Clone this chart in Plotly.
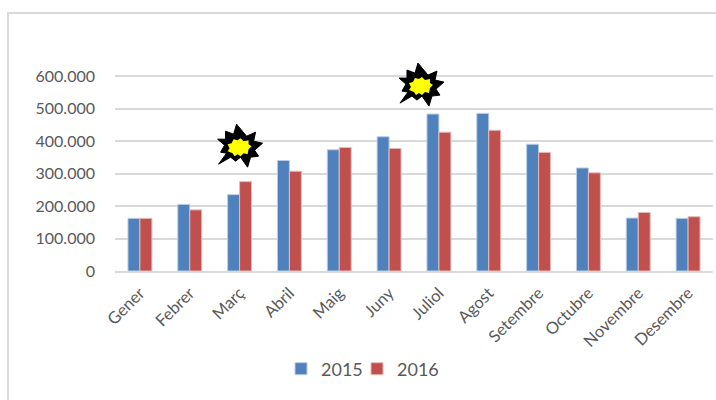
import plotly.graph_objects as go

months = ["Gener","Febrer","Març","Abril","Maig","Juny","Juliol","Agost","Setembre","Octubre","Novembre","Desembre"]
v2015 = [162000,205000,235000,340000,373000,413000,483000,485000,390000,317000,163000,162000]
v2016 = [162000,188000,275000,307000,380000,377000,427000,433000,365000,302000,180000,167000]
tick_vals = [0,100000,200000,300000,400000,500000,600000]
tick_text = ["0","100.000","200.000","300.000","400.000","500.000","600.000"]

W, H = 716, 400
L, R, T, B = 115, 3, 56, 129
pw, ph = W-L-R, H-T-B
y_top = 600000*ph/195

# burst outline, in pixels around its anchor
burst = [(-21,-17),(-9,-10),(-4,-14),(1,-10),(8,-20),(11,-10),(19,-9),(15,-3),(23,4),(14,6),(16,15),(7,11),(-3,23),(-6,13),(-14,16),(-14,8),(-22,8),(-15,2),(-19,-5),(-13,-6)]
inner = [(-12,-4),(-7,-6),(-5,-9),(-2,-7),(1,-9),(4,-6),(8,-7),(9,-2),(12,1),(9,3),(9,7),(4,6),(1,9),(-2,7),(-6,8),(-8,4),(-12,3),(-10,-1)]
burst_anchors = [(2.0,381000),(5.64,569000)]

def path(pts):
    return "M " + " L ".join(f"{x},{y}" for x,y in pts) + " Z"

fig = go.Figure()
for name, vals, col, edge, leg in [("2015",v2015,"#4F81BD","#B9CDE5","legend"),("2016",v2016,"#C0504D","#E6B9B8","legend2")]:
    fig.add_bar(x=months, y=vals, name=name, legend=leg, showlegend=True,
                marker=dict(color=col, line=dict(color=edge, width=1)))

shapes = [dict(type="rect", xref="paper", yref="paper",
               x0=(8-L)/pw, x1=(W+6-L)/pw, y0=(T+ph-H-6)/ph, y1=(T+ph-13)/ph,
               line=dict(color="#D9D9D9", width=2), fillcolor="rgba(0,0,0,0)", layer="below")]
for ax, ay in burst_anchors:
    for pts, fill, lw, lc in [(burst,"#000000",1,"#000000"),(inner,"#FFFF00",0,"#FFFF00")]:
        shapes.append(dict(type="path", xref="x", yref="y", xsizemode="pixel", ysizemode="pixel",
                           xanchor=ax, yanchor=ay, path=path(pts), fillcolor=fill,
                           line=dict(color=lc, width=lw)))

def legend_at(px):
    return dict(orientation="h", x=(px-L)/pw, xanchor="left", y=-(369-271)/ph, yanchor="middle",
                font=dict(size=18, color="#595959"), bgcolor="rgba(0,0,0,0)", itemwidth=30)

fig.update_layout(
    width=W, height=H, autosize=False,
    margin=dict(l=L, r=R, t=T, b=B), paper_bgcolor="white", plot_bgcolor="white",
    barmode="group", bargap=0.52, bargroupgap=0,
    font=dict(family="Lato", color="#595959", size=16),
    shapes=shapes,
    legend=legend_at(281), legend2=legend_at(357),
    xaxis=dict(type="category", tickangle=-45, ticks="outside", ticklen=4, tickcolor="rgba(0,0,0,0)",
               showgrid=False, showline=True, linecolor="#D9D9D9", linewidth=2,
               tickfont=dict(size=16.5, color="#595959")),
    yaxis=dict(range=[0,y_top], tickvals=tick_vals, ticktext=tick_text, showgrid=True,
               gridcolor="#D9D9D9", gridwidth=2, zeroline=False, showline=False,
               ticks="", ticklabelstandoff=19, tickfont=dict(size=16, color="#595959")),
)
fig.write_html("out.html", config={"displayModeBar": False},
               post_script="document.body.style.margin='0';document.body.style.overflow='hidden';")
